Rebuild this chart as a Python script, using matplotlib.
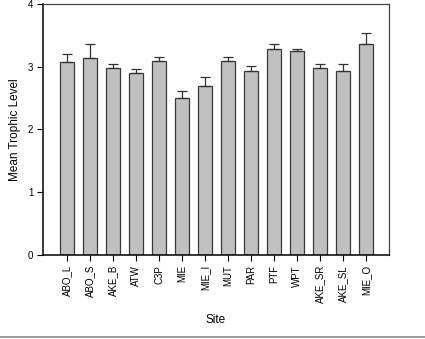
import numpy as np
import matplotlib.pyplot as plt
from matplotlib.lines import Line2D

sites = ["ABO_L", "ABO_S", "AKE_B", "ATW", "C3P", "MIE", "MIE_I", "MUT",
         "PAR", "PTF", "WPT", "AKE_SR", "AKE_SL", "MIE_O"]
means = [3.08, 3.15, 2.98, 2.91, 3.10, 2.51, 2.70, 3.10,
         2.94, 3.28, 3.26, 2.98, 2.93, 3.36]
errors = [0.13, 0.21, 0.06, 0.05, 0.06, 0.10, 0.14, 0.06,
          0.07, 0.09, 0.03, 0.07, 0.12, 0.18]

plt.rcParams["font.family"] = ["Liberation Sans", "DejaVu Sans"]

fig = plt.figure(figsize=(4.25, 3.39), dpi=100)
ax = fig.add_axes([0.101, 0.249, 0.814, 0.738])

x = np.arange(len(sites))
ax.bar(x, means, width=0.61, color="#c0c0c0", edgecolor="#3a3a3a", linewidth=0.9,
       yerr=[np.zeros(len(errors)), errors], capsize=3.5,
       error_kw=dict(ecolor="#333333", elinewidth=0.9, capthick=0.9))

ax.set_xlim(-1.06, 14.0)
ax.set_ylim(0, 4)
ax.set_yticks([0, 1, 2, 3, 4])
ax.set_xticks(x)
ax.set_xticklabels(sites, rotation=90, fontsize=7)
ax.tick_params(axis="y", labelsize=7, length=4, width=0.8, direction="out", pad=3)
ax.tick_params(axis="x", length=4, width=0.8, direction="out")

for side in ["left", "bottom"]:
    ax.spines[side].set_linewidth(1.1)
    ax.spines[side].set_color("black")
for side in ["top", "right"]:
    ax.spines[side].set_linewidth(0.9)
    ax.spines[side].set_color("#444444")

ax.set_ylabel("Mean Trophic Level", fontsize=8.5, labelpad=5)
ax.set_xlabel("Site", fontsize=8.5, labelpad=8)

fig.add_artist(Line2D([0, 1], [0.006, 0.006], transform=fig.transFigure,
                      color="#888888", linewidth=1.2))

fig.savefig("out.png", dpi=100)
